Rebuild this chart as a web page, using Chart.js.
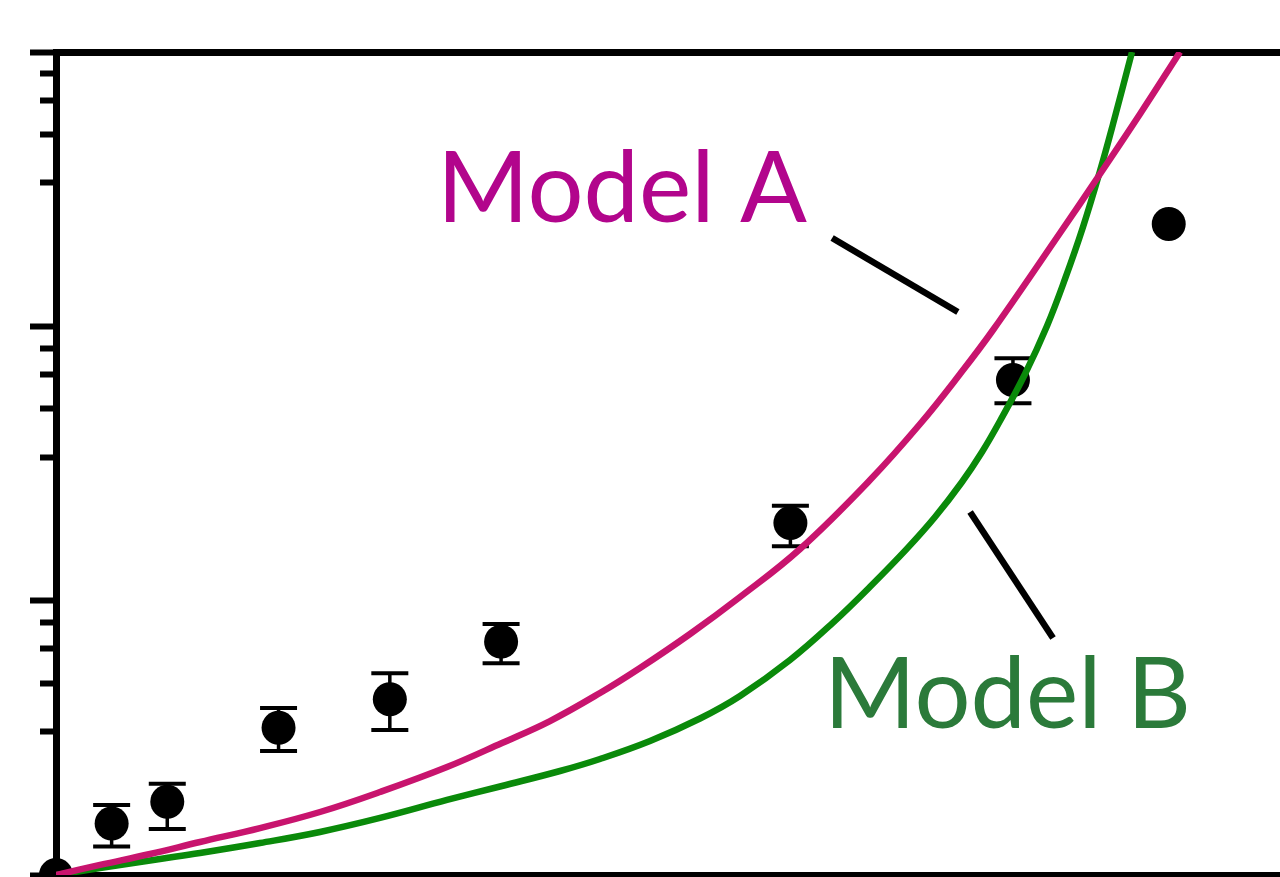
<!DOCTYPE html>
<html>
<head>
<meta charset="utf-8">
<script src="https://cdn.jsdelivr.net/npm/chart.js@4/dist/chart.umd.min.js"></script>
<style>
  html, body { margin: 0; padding: 0; background: #ffffff; }
  #wrap { width: 1280px; height: 877px; }
</style>
</head>
<body>
<div id="wrap"><canvas id="chart" width="1280" height="877"></canvas></div>
<script>
// Measured growth: mean with lower / upper error bounds
const sampleX = [0, 1, 2, 4, 6, 8, 13.2, 17.2, 20];
const sampleMean = [1, 1.54, 1.85, 3.44, 4.37, 7.09, 19.2, 63.7, 236];
const sampleLow = [null, 1.27, 1.47, 2.83, 3.38, 5.91, 15.8, 52.4, null];
const sampleHigh = [null, 1.80, 2.15, 4.06, 5.44, 8.22, 22.2, 76.5, null];

// Model A prediction
const modelAX = [0, 0.791, 1.690, 2.588, 3.667, 4.745, 5.824, 7.028, 8.016, 8.879, 9.778, 10.497, 11.396,
  12.294, 13.373, 14.631, 15.530, 16.249, 16.842, 18.046, 18.765, 19.484, 20.203];
const modelAY = [1, 1.088, 1.193, 1.319, 1.483, 1.697, 2.007, 2.475, 3.029, 3.641, 4.607, 5.684, 7.560,
  10.31, 15.43, 27.54, 44.06, 67.04, 96.97, 218.9, 359.2, 594.3, 1000];

// Model B prediction
const modelBX = [0, 0.791, 1.869, 2.588, 3.667, 4.745, 5.824, 7.028, 8.016, 9.059, 9.778, 10.677, 11.575,
  12.294, 13.193, 13.966, 14.631, 15.296, 15.799, 16.284, 16.644, 16.967, 17.417, 17.812, 18.136,
  18.459, 18.765, 18.999, 19.340];
const modelBY = [1, 1.061, 1.144, 1.203, 1.308, 1.435, 1.614, 1.877, 2.111, 2.394, 2.648, 3.080, 3.719,
  4.493, 6.078, 8.319, 11.24, 15.48, 20.18, 27.08, 34.83, 45.18, 67.04, 100.3, 148.8,
  230.2, 368.4, 546.4, 1000];

// Axis ranges and tick values (log axis: majors per decade, minors in between)
const xRange = [0, 22];
const yRange = [1, 1000];
const yMajorTicks = [1, 10, 100, 1000];
const yMinorFactors = [10 / 3, 5, 20 / 3, 25 / 3];

const pairs = (xs, ys) => xs.map((x, i) => ({ x, y: ys[i] }));

const stemPoints = [];
const capPoints = [];
sampleX.forEach((x, i) => {
  if (sampleLow[i] == null || sampleHigh[i] == null) return;
  stemPoints.push({ x, y: sampleLow[i] }, { x, y: sampleHigh[i] }, { x, y: null });
  capPoints.push({ x, y: sampleLow[i] }, { x, y: sampleHigh[i] });
});

const yTickValues = [];
yMajorTicks.forEach((m, k) => {
  yTickValues.push(m);
  if (k < yMajorTicks.length - 1) yMinorFactors.forEach(f => yTickValues.push(m * f));
});
yTickValues.sort((a, b) => a - b);
const isMajor = v => yMajorTicks.some(m => Math.abs(m - v) < 1e-9 * m);

// Callout labels with leader lines, placed in data coordinates
const callouts = [
  { text: 'Model A', color: '#b2058c', x: 6.848, y: 240.2, line: [13.95, 210, 16.21, 112.8] },
  { text: 'Model B', color: '#2b7a3a', x: 13.804, y: 3.435, line: [16.43, 21.05, 17.92, 7.31] }
];

const calloutPlugin = {
  id: 'callouts',
  afterDatasetsDraw(chart) {
    const { ctx, scales: { x, y } } = chart;
    ctx.save();
    callouts.forEach(c => {
      const [ax, ay, bx, by] = c.line;
      ctx.beginPath();
      ctx.strokeStyle = '#000000';
      ctx.lineWidth = 6.5;
      ctx.lineCap = 'butt';
      ctx.moveTo(x.getPixelForValue(ax), y.getPixelForValue(ay));
      ctx.lineTo(x.getPixelForValue(bx), y.getPixelForValue(by));
      ctx.stroke();
      ctx.fillStyle = c.color;
      ctx.font = '400 99px Lato, "Open Sans", sans-serif';
      ctx.textAlign = 'left';
      ctx.textBaseline = 'alphabetic';
      ctx.fillText(c.text, x.getPixelForValue(c.x), y.getPixelForValue(c.y));
    });
    ctx.restore();
  }
};

new Chart(document.getElementById('chart'), {
  type: 'scatter',
  data: {
    datasets: [
      {
        type: 'line', label: 'Model A', data: pairs(modelAX, modelAY),
        borderColor: '#c8146e', borderWidth: 6.5, pointRadius: 0,
        tension: 0.4, fill: false, order: 0
      },
      {
        type: 'line', label: 'Model B', data: pairs(modelBX, modelBY),
        borderColor: '#0a8a0a', borderWidth: 6.5, pointRadius: 0,
        tension: 0.4, fill: false, order: 0
      },
      {
        type: 'scatter', label: 'Measured', data: pairs(sampleX, sampleMean),
        backgroundColor: '#000000', borderWidth: 0, pointRadius: 17,
        clip: false, order: 1
      },
      {
        type: 'line', label: 'Error', data: stemPoints,
        borderColor: '#000000', borderWidth: 3.5, pointRadius: 0,
        spanGaps: false, fill: false, order: 2
      },
      {
        type: 'scatter', label: 'Error caps', data: capPoints,
        pointStyle: 'line', pointRadius: 18.5, borderColor: '#000000',
        borderWidth: 4, order: 2
      }
    ]
  },
  options: {
    responsive: false,
    animation: false,
    devicePixelRatio: 1,
    events: [],
    layout: { autoPadding: false, padding: { left: 30, top: 52, right: 0, bottom: 2 } },
    plugins: { legend: { display: false }, tooltip: { enabled: false } },
    scales: {
      x: {
        type: 'linear', position: 'bottom', min: xRange[0], max: xRange[1],
        ticks: { display: false },
        grid: { display: false, drawTicks: false },
        border: { display: true, color: '#000000', width: 7 }
      },
      xTop: {
        type: 'linear', position: 'top', min: xRange[0], max: xRange[1],
        ticks: { display: false },
        grid: { display: false, drawTicks: false },
        border: { display: true, color: '#000000', width: 7 }
      },
      y: {
        type: 'logarithmic', position: 'left', min: yRange[0], max: yRange[1],
        afterBuildTicks(scale) {
          scale.ticks = yTickValues.map(v => ({ value: v, major: isMajor(v) }));
        },
        ticks: { display: false },
        grid: {
          drawOnChartArea: false, drawTicks: true, tickLength: 26,
          tickWidth: 6, tickColor: '#000000',
          tickBorderDash: ctx => (ctx.tick && isMajor(ctx.tick.value)) ? [] : [0, 10, 100, 0]
        },
        border: { display: true, color: '#000000', width: 7 }
      }
    }
  },
  plugins: [calloutPlugin]
});
</script>
</body>
</html>
